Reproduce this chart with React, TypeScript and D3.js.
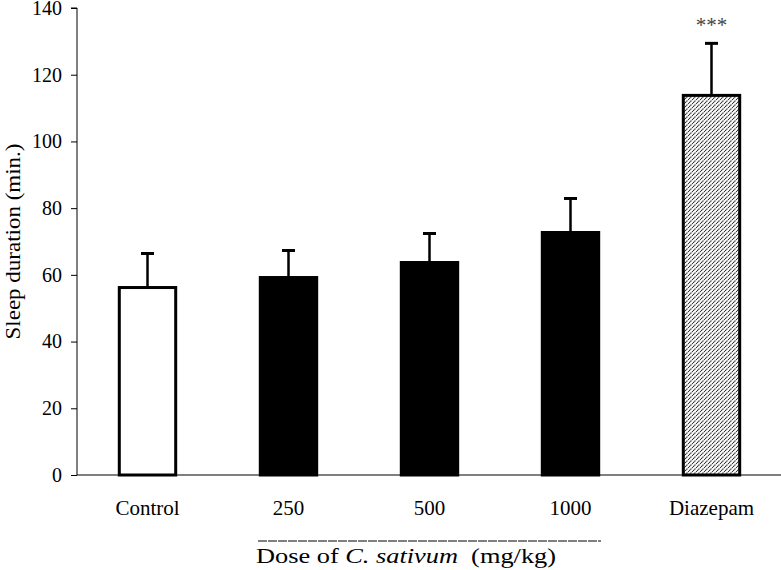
import * as d3 from "d3";
import { useEffect, useRef } from "react";

const groups = ["Control", "250", "500", "1000", "Diazepam"];
const means = [56.2, 59.2, 63.7, 72.7, 113.8];
const sems = [10.2, 8.1, 8.7, 10.2, 15.6];
const fills = ["white", "black", "black", "black", "url(#hatch)"];
const yTicks = [0, 20, 40, 60, 80, 100, 120, 140];
const signif = ["", "", "", "", "***"];

const W = 781;
const H = 570;
const FONT = "Liberation Serif, Times New Roman, serif";

export default function App() {
  const svgRef = useRef<SVGSVGElement | null>(null);

  useEffect(() => {
    const svg = d3.select(svgRef.current);
    svg.selectAll("*").remove();

    const left = 77;
    const top = 8;
    const bottom = 475;

    const x = d3
      .scaleBand()
      .domain(groups)
      .range([left, left + 705])
      .paddingInner(0.6)
      .paddingOuter(0.3);

    const y = d3.scaleLinear().domain([0, 140]).range([bottom, top]);

    // hatch pattern for the diazepam bar
    const pat = svg
      .append("defs")
      .append("pattern")
      .attr("id", "hatch")
      .attr("patternUnits", "userSpaceOnUse")
      .attr("width", 4)
      .attr("height", 4);
    pat.append("rect").attr("width", 4).attr("height", 4).attr("fill", "white");
    pat
      .append("path")
      .attr("d", "M-1,1 l2,-2 M0,4 l4,-4 M3,5 l2,-2")
      .attr("stroke", "#222")
      .attr("stroke-width", 1.1)
      .attr("stroke-dasharray", "1.2,0.5");

    // y axis
    const yAxis = d3
      .axisLeft(y)
      .tickValues(yTicks)
      .tickSize(6)
      .tickPadding(9);
    const gy = svg
      .append("g")
      .attr("transform", `translate(${left},0)`)
      .call(yAxis);
    gy.select(".domain").attr("stroke", "black").attr("d", `M-6,${top}H0V${bottom}`);
    gy.selectAll("line").attr("stroke", "black");
    gy.selectAll("text")
      .attr("font-family", FONT)
      .attr("font-size", 20)
      .attr("fill", "black");

    // x axis line
    svg
      .append("line")
      .attr("x1", left)
      .attr("x2", W)
      .attr("y1", bottom)
      .attr("y2", bottom)
      .attr("stroke", "black")
      .attr("stroke-width", 1.2);

    // category labels
    svg
      .selectAll(".cat")
      .data(groups)
      .join("text")
      .attr("class", "cat")
      .attr("x", (d) => x(d)! + x.bandwidth() / 2)
      .attr("y", 515)
      .attr("text-anchor", "middle")
      .attr("font-family", FONT)
      .attr("font-size", 21)
      .text((d) => d);

    // error bars
    const err = svg
      .selectAll(".err")
      .data(groups)
      .join("g")
      .attr("class", "err");
    err
      .append("line")
      .attr("x1", (d) => x(d)! + x.bandwidth() / 2)
      .attr("x2", (d) => x(d)! + x.bandwidth() / 2)
      .attr("y1", (d, i) => y(means[i]))
      .attr("y2", (d, i) => y(means[i] + sems[i]))
      .attr("stroke", "black")
      .attr("stroke-width", 2.5);
    err
      .append("line")
      .attr("x1", (d) => x(d)! + x.bandwidth() / 2 - 6.5)
      .attr("x2", (d) => x(d)! + x.bandwidth() / 2 + 6.5)
      .attr("y1", (d, i) => y(means[i] + sems[i]))
      .attr("y2", (d, i) => y(means[i] + sems[i]))
      .attr("stroke", "black")
      .attr("stroke-width", 3);

    // bars
    svg
      .selectAll(".bar")
      .data(groups)
      .join("rect")
      .attr("class", "bar")
      .attr("x", (d) => x(d)!)
      .attr("width", x.bandwidth())
      .attr("y", (d, i) => y(means[i]))
      .attr("height", (d, i) => bottom - y(means[i]))
      .attr("fill", (d, i) => fills[i])
      .attr("stroke", "black")
      .attr("stroke-width", 3);

    // significance stars
    svg
      .selectAll(".sig")
      .data(groups)
      .join("text")
      .attr("class", "sig")
      .attr("x", (d) => x(d)! + x.bandwidth() / 2)
      .attr("y", (d, i) => y(means[i] + sems[i]) - 11)
      .attr("text-anchor", "middle")
      .attr("font-family", FONT)
      .attr("font-size", 21)
      .attr("fill", "#444")
      .text((d, i) => signif[i]);

    // y title
    svg
      .append("text")
      .attr("transform", `translate(20,${(bottom + top) / 2}) rotate(-90)`)
      .attr("text-anchor", "middle")
      .attr("font-family", FONT)
      .attr("font-size", 21)
      .attr("textLength", 196)
      .attr("lengthAdjust", "spacingAndGlyphs")
      .text("Sleep duration (min.)");

    // dose underline + title
    svg
      .append("line")
      .attr("x1", 258)
      .attr("x2", 601)
      .attr("y1", 541)
      .attr("y2", 541)
      .attr("stroke", "black")
      .attr("stroke-width", 1)
      .attr("stroke-dasharray", "9,1");

    const t = svg
      .append("text")
      .attr("x", 256)
      .attr("y", 563)
      .attr("font-family", FONT)
      .attr("font-size", 21)
      .attr("textLength", 300)
      .attr("lengthAdjust", "spacingAndGlyphs");
    t.append("tspan").text("Dose of ");
    t.append("tspan").attr("font-style", "italic").text("C. sativum");
    t.append("tspan").text("\u00a0 (mg/kg)");
  }, []);

  return (
    <svg
      ref={svgRef}
      width={W}
      height={H}
      style={{ position: "absolute", left: 0, top: 0, background: "white" }}
    />
  );
}
